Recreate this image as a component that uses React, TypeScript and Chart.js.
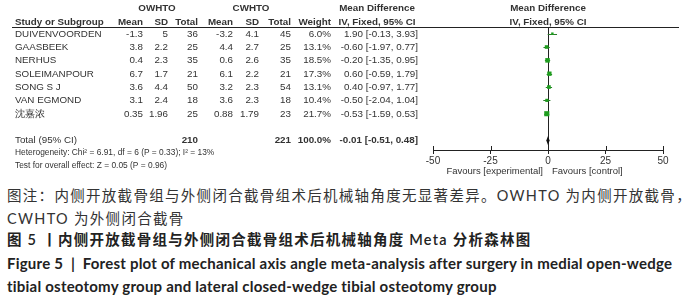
import React, { useEffect, useRef } from "react";
import { Chart, registerables } from "chart.js";

Chart.register(...registerables);

// ---- data ----
const studies = ["DUIVENVOORDEN", "GAASBEEK", "NERHUS", "SOLEIMANPOUR", "SONG S J", "VAN EGMOND", "沈嘉浓"];
const expMean = ["-1.3", "3.8", "0.4", "6.7", "3.6", "3.1", "0.35"];
const expSD = ["5", "2.2", "2.3", "1.7", "4.4", "2.4", "1.96"];
const expN = [36, 25, 35, 21, 50, 18, 25];
const ctlMean = ["-3.2", "4.4", "0.6", "6.1", "3.2", "3.6", "0.88"];
const ctlSD = ["4.1", "2.7", "2.6", "2.2", "2.3", "2.3", "1.79"];
const ctlN = [45, 25, 35, 21, 54, 18, 23];
const weights = [6.0, 13.1, 18.5, 17.3, 13.1, 10.4, 21.7];
const md = [1.9, -0.6, -0.2, 0.6, 0.4, -0.5, -0.53];
const ciLo = [-0.13, -1.97, -1.35, -0.59, -0.97, -2.04, -1.59];
const ciHi = [3.93, 0.77, 0.95, 1.79, 1.77, 1.04, 0.53];
const rows = [1, 2, 3, 4, 5, 6, 7];

const totalRow = 9;
const totalExpN = 210;
const totalCtlN = 221;
const totalWeight = "100.0%";
const totalMd = -0.01;
const totalLo = -0.51;
const totalHi = 0.48;
const heterogeneity = "Heterogeneity: Chi² = 6.91, df = 6 (P = 0.33); I² = 13%";
const overallTest = "Test for overall effect: Z = 0.05 (P = 0.96)";

const xTicks = [-50, -25, 0, 25, 50];
const favoursLeft = "Favours [experimental]";
const favoursRight = "Favours [control]";

const captionNote1 = "图注：内侧开放截骨组与外侧闭合截骨组术后机械轴角度无显著差异。OWHTO 为内侧开放截骨，";
const captionNote2 = "CWHTO 为外侧闭合截骨";
const captionTitleCn = "图 5 丨内侧开放截骨组与外侧闭合截骨组术后机械轴角度 Meta 分析森林图";
const captionTitleEn1 = "Figure 5  |  Forest plot of mechanical axis angle meta-analysis after surgery in medial open-wedge";
const captionTitleEn2 = "tibial osteotomy group and lateral closed-wedge tibial osteotomy group";

const FONT = "'Liberation Sans', Arial, sans-serif";
const TEXT = "#333";

const fmt2 = (v: number) => v.toFixed(2);
const ciText = (m: number, l: number, h: number) => `${fmt2(m)} [${fmt2(l)}, ${fmt2(h)}]`;

const forestPlugin = {
  id: "forest",
  beforeDatasetsDraw(chart: any) {
    const { ctx, scales, chartArea } = chart;
    const x = scales.x;
    const y = scales.y;
    ctx.save();
    // zero line
    ctx.strokeStyle = "#222";
    ctx.lineWidth = 1;
    const x0 = Math.round(x.getPixelForValue(0)) + 0.5;
    ctx.beginPath();
    ctx.moveTo(x0, chartArea.top);
    ctx.lineTo(x0, chartArea.bottom);
    ctx.stroke();
    // CI lines
    ctx.strokeStyle = "#2a7a2a";
    rows.forEach((r, i) => {
      const py = Math.round(y.getPixelForValue(r)) + 0.5;
      ctx.beginPath();
      ctx.moveTo(x.getPixelForValue(ciLo[i]), py);
      ctx.lineTo(x.getPixelForValue(ciHi[i]), py);
      ctx.stroke();
    });
    // diamond
    const dy = y.getPixelForValue(totalRow);
    ctx.fillStyle = "#111";
    ctx.beginPath();
    ctx.moveTo(x.getPixelForValue(totalLo) - 0.5, dy);
    ctx.lineTo(x.getPixelForValue(totalMd), dy - 4.5);
    ctx.lineTo(x.getPixelForValue(totalHi) + 0.5, dy);
    ctx.lineTo(x.getPixelForValue(totalMd), dy + 4.5);
    ctx.closePath();
    ctx.fill();
    ctx.restore();
  },
  afterDraw(chart: any) {
    const { ctx, scales, chartArea } = chart;
    const y = scales.y;
    const x = scales.x;
    const plotCenter = x.getPixelForValue(0);
    ctx.save();
    ctx.textBaseline = "middle";
    ctx.fillStyle = TEXT;
    const txt = (s: string, px: number, row: number, align: CanvasTextAlign, bold = false, size = 9.8) => {
      ctx.font = `${bold ? "bold " : ""}${size}px ${FONT}`;
      ctx.textAlign = align;
      ctx.fillText(s, px, Math.round(y.getPixelForValue(row)));
    };
    // header rows
    const h1 = -0.96;
    const h2 = 0.1;
    txt("OWHTO", 157, h1, "center", true);
    txt("CWHTO", 251, h1, "center", true);
    txt("Mean Difference", 377, h1, "center", true);
    txt("Mean Difference", plotCenter, h1, "center", true);
    txt("Study or Subgroup", 15, h2, "left", true);
    txt("Mean", 143, h2, "right", true);
    txt("SD", 168, h2, "right", true);
    txt("Total", 198, h2, "right", true);
    txt("Mean", 233, h2, "right", true);
    txt("SD", 259, h2, "right", true);
    txt("Total", 291, h2, "right", true);
    txt("Weight", 331, h2, "right", true);
    txt("IV, Fixed, 95% CI", 377, h2, "center", true);
    txt("IV, Fixed, 95% CI", plotCenter, h2, "center", true);
    // header rule
    ctx.strokeStyle = "#222";
    ctx.lineWidth = 1;
    const ly = Math.round(chartArea.top) + 0.5;
    ctx.beginPath();
    ctx.moveTo(12, ly);
    ctx.lineTo(679, ly);
    ctx.stroke();
    // study rows
    rows.forEach((r, i) => {
      txt(studies[i], 15, r, "left");
      txt(expMean[i], 143, r, "right");
      txt(expSD[i], 168, r, "right");
      txt(String(expN[i]), 198, r, "right");
      txt(ctlMean[i], 233, r, "right");
      txt(ctlSD[i], 259, r, "right");
      txt(String(ctlN[i]), 291, r, "right");
      txt(weights[i].toFixed(1) + "%", 331, r, "right");
      txt(ciText(md[i], ciLo[i], ciHi[i]), 418, r, "right");
    });
    // total
    txt("Total (95% CI)", 15, totalRow, "left");
    txt(String(totalExpN), 198, totalRow, "right", true);
    txt(String(totalCtlN), 291, totalRow, "right", true);
    txt(totalWeight, 331, totalRow, "right", true);
    txt(ciText(totalMd, totalLo, totalHi), 418, totalRow, "right", true);
    txt(heterogeneity, 15, 9.95, "left", false, 8.4);
    txt(overallTest, 15, 10.93, "left", false, 8.4);
    // favours
    ctx.font = `9.5px ${FONT}`;
    ctx.textAlign = "right";
    ctx.fillText(favoursLeft, plotCenter - 5, 171);
    ctx.textAlign = "left";
    ctx.fillText(favoursRight, plotCenter + 4, 171);
    // tick marks above axis
    ctx.strokeStyle = "#222";
    xTicks.forEach((t) => {
      const px = Math.round(x.getPixelForValue(t)) + 0.5;
      ctx.beginPath();
      ctx.moveTo(px, chartArea.bottom - 4);
      ctx.lineTo(px, chartArea.bottom);
      ctx.stroke();
    });
    ctx.restore();
  },
};

function ForestChart() {
  const ref = useRef<HTMLCanvasElement | null>(null);
  useEffect(() => {
    if (!ref.current) return;
    const chart = new Chart(ref.current, {
      type: "scatter",
      data: {
        datasets: [
          {
            data: rows.map((r, i) => ({ x: md[i], y: r })),
            pointStyle: "rect",
            pointRadius: weights.map((w) => 1 + w * 0.12),
            backgroundColor: "#1f9e1f",
            borderColor: "#1f9e1f",
            borderWidth: 0,
          },
        ],
      },
      options: {
        animation: false,
        responsive: false,
        devicePixelRatio: 1,
        layout: { padding: { left: 433, right: 20, top: 27, bottom: 8 } },
        plugins: { legend: { display: false }, tooltip: { enabled: false } },
        scales: {
          x: {
            type: "linear",
            min: -50,
            max: 50,
            afterBuildTicks: (s: any) => {
              s.ticks = xTicks.map((v) => ({ value: v }));
            },
            afterFit: (s: any) => {
              s.height = 22;
            },
            grid: { drawOnChartArea: false, drawTicks: true, tickLength: 4, color: "#222" },
            border: { display: true, color: "#222" },
            ticks: { color: TEXT, font: { family: FONT, size: 10 }, padding: 1, maxRotation: 0, autoSkip: false },
          },
          y: {
            type: "linear",
            display: false,
            reverse: true,
            min: 0.5,
            max: 9.72,
          },
        },
      },
      plugins: [forestPlugin],
    });
    return () => chart.destroy();
  }, []);
  return <canvas ref={ref} width={683} height={180} style={{ position: "absolute", left: 0, top: 0 }} />;
}

const capBase: React.CSSProperties = {
  position: "absolute",
  left: 7,
  whiteSpace: "pre",
  lineHeight: "20px",
  height: 20,
  fontFamily: "Lato, 'Noto Sans CJK SC', sans-serif",
  color: "#333",
};

export default function App() {
  useEffect(() => {
    document.body.style.margin = "0";
  }, []);
  return (
    <div style={{ position: "relative", width: 683, height: 300, background: "#fff", overflow: "hidden" }}>
      <ForestChart />
      <div style={{ ...capBase, top: 186, fontSize: 14.5, letterSpacing: 1.3 }}>{captionNote1}</div>
      <div style={{ ...capBase, top: 209, fontSize: 14.5, letterSpacing: 1.3 }}>{captionNote2}</div>
      <div style={{ ...capBase, top: 230, fontSize: 14.5, letterSpacing: 1.25, fontWeight: 600, color: "#222" }}>{captionTitleCn}</div>
      <div style={{ ...capBase, top: 253, fontSize: 15, letterSpacing: 0.22, fontWeight: "bold", color: "#222" }}>{captionTitleEn1}</div>
      <div style={{ ...capBase, top: 276, fontSize: 15, letterSpacing: 0.22, fontWeight: "bold", color: "#222" }}>{captionTitleEn2}</div>
    </div>
  );
}
